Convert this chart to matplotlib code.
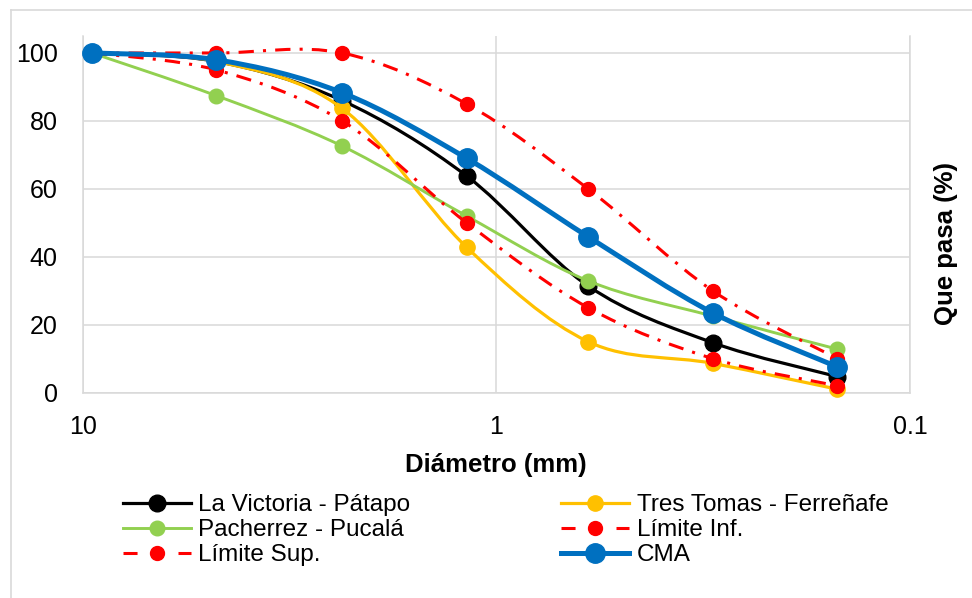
import numpy as np
import matplotlib
matplotlib.use("Agg")
import matplotlib.pyplot as plt
from matplotlib.path import Path
from matplotlib.patches import PathPatch
from matplotlib.lines import Line2D
from matplotlib.ticker import NullLocator

plt.rcParams['font.family'] = ['Liberation Sans', 'DejaVu Sans']

# tamices (mm) y porcentaje que pasa
diam = [9.5, 4.75, 2.36, 1.18, 0.6, 0.3, 0.15]
la_victoria = [100, 97.5, 86, 63.8, 31.4, 14.7, 4.7]
tres_tomas = [100, 97.5, 83.7, 42.8, 15.0, 8.6, 1.0]
pacherrez = [100, 87.4, 72.6, 52.0, 32.9, 22.5, 12.8]
lim_inf = [100, 95, 80, 50, 25, 10, 2]
lim_sup = [100, 100, 100, 85, 60, 30, 10]
cma = [100, 98.0, 88.3, 69.0, 45.9, 23.5, 7.6]

names = ['La Victoria - Pátapo', 'Tres Tomas - Ferreñafe', 'Pacherrez - Pucalá',
         'Límite Inf.', 'Límite Sup.', 'CMA']
series = [la_victoria, tres_tomas, pacherrez, lim_inf, lim_sup, cma]
colors = ['#000000', '#FFC000', '#92D050', '#FF0000', '#FF0000', '#0070C0']
widths = [2.3, 2.3, 2.1, 2.2, 2.2, 3.6]
msizes = [12, 11, 10.5, 10, 10, 14]
dashdot = (0, (5, 3, 1, 3))
styles = ['-', '-', '-', dashdot, dashdot, '-']


def smooth_path(xs, ys):
    # curva suavizada tipo Excel (Bezier), calculada en espacio log
    pts = np.column_stack([np.log10(xs), ys])
    ext = np.vstack([pts[0], pts, pts[-1]])
    verts = [pts[0]]
    codes = [Path.MOVETO]
    for i in range(len(pts) - 1):
        p0, p1, p2, p3 = ext[i], ext[i + 1], ext[i + 2], ext[i + 3]
        verts += [p1 + (p2 - p0) / 6, p2 - (p3 - p1) / 6, p2]
        codes += [Path.CURVE4] * 3
    verts = np.array(verts)
    verts[:, 0] = 10 ** verts[:, 0]
    return Path(verts, codes)


fig = plt.figure(figsize=(9.72, 5.98), dpi=100)
ax = fig.add_axes([0.0851, 0.3436, 0.851, 0.5962])
ax.set_xscale('log')
ax.set_xlim(10, 0.1)
ax.set_ylim(0, 105)

handles = []
for i, (y, c, lw, ms, ls) in enumerate(zip(series, colors, widths, msizes, styles)):
    patch = PathPatch(smooth_path(diam, y), facecolor='none', edgecolor=c,
                      lw=lw, linestyle=ls, zorder=3 + i)
    ax.add_patch(patch)
    ax.plot(diam, y, 'o', color=c, ms=ms, zorder=3 + i, clip_on=False)
    hls = (0, (4.6, 13.4)) if ls != '-' else '-'
    handles.append(Line2D([], [], color=c, lw=lw, ls=hls, marker='o', ms=ms))

ax.set_yticks([0, 20, 40, 60, 80, 100])
ax.set_xticks([10, 1, 0.1], labels=['10', '1', '0.1'])
ax.xaxis.set_minor_locator(NullLocator())
ax.grid(True, color='#D9D9D9', lw=1.1, zorder=0)
ax.tick_params(length=0, labelsize=18)
ax.tick_params(axis='y', pad=18)
ax.tick_params(axis='x', pad=16)
for s in ['left', 'right', 'bottom']:
    ax.spines[s].set_color('#D9D9D9')
    ax.spines[s].set_linewidth(1.1)
ax.spines['top'].set_visible(False)

ax.set_xlabel('Diámetro (mm)', fontsize=18.5, fontweight='bold', labelpad=10)
fig.text(946 / 972, 1 - 243 / 598, 'Que pasa (%)', rotation=90, fontsize=18.5,
         fontweight='bold', ha='center', va='center')

order = [0, 2, 4, 1, 3, 5]
fig.legend([handles[k] for k in order], [names[k] for k in order], ncol=2,
           loc='upper left', bbox_to_anchor=(123 / 972, 1 - 494 / 598),
           frameon=False, fontsize=17.5, handlelength=2.8, handletextpad=0.3,
           columnspacing=6.2, labelspacing=0.13, borderpad=0, borderaxespad=0)

# borde del grafico
fig.add_artist(Line2D([11 / 972, 11 / 972], [0, 1 - 10 / 598],
                      color='#D9D9D9', lw=1.2, transform=fig.transFigure))
fig.add_artist(Line2D([11 / 972, 1], [1 - 10 / 598, 1 - 10 / 598],
                      color='#D9D9D9', lw=1.2, transform=fig.transFigure))

fig.savefig('out.png', dpi=100, facecolor='white')
